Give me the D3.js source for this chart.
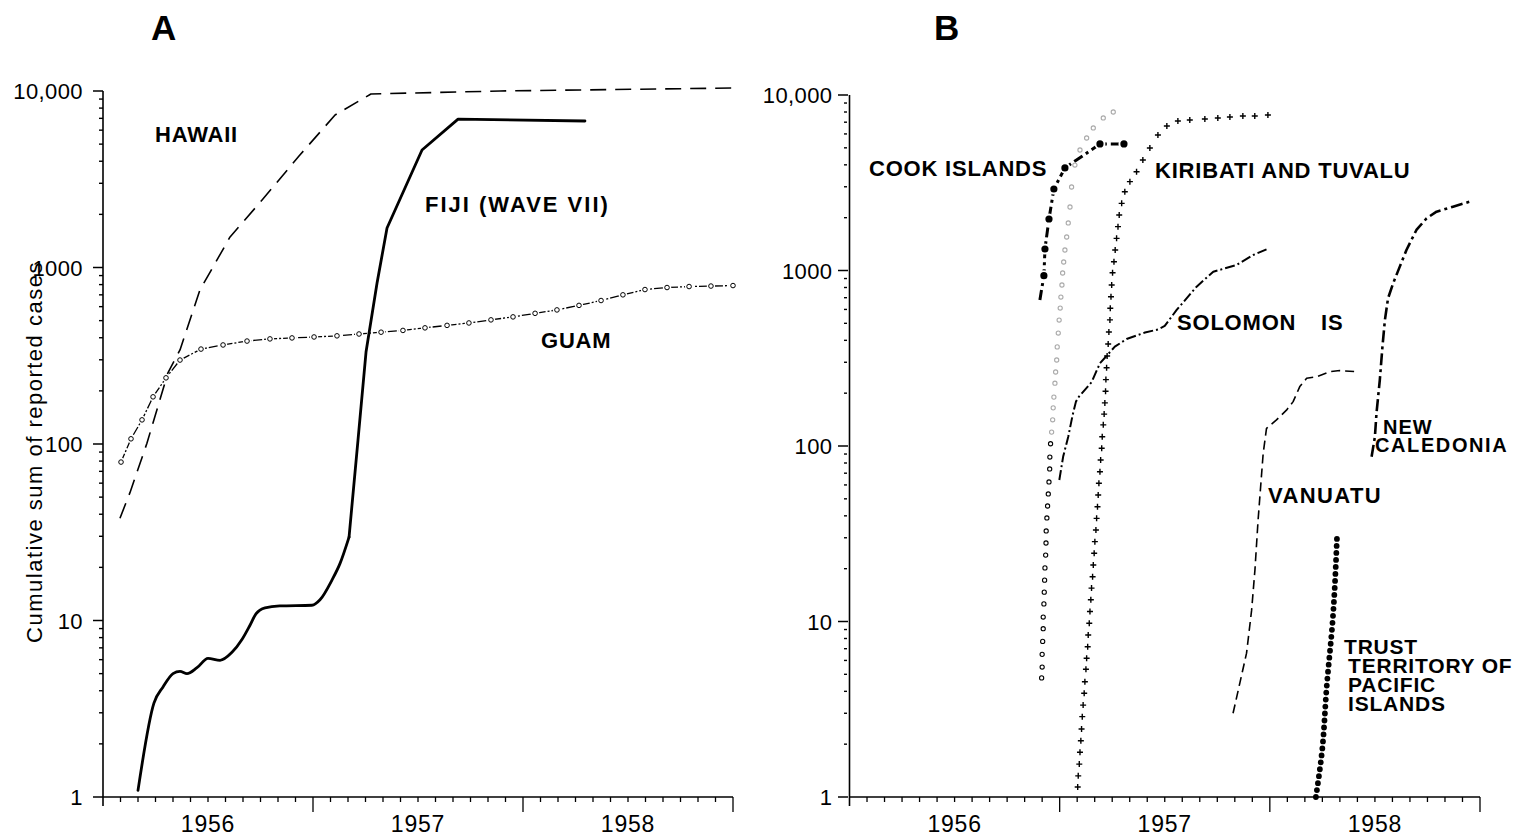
<!DOCTYPE html>
<html><head><meta charset="utf-8">
<script src="https://cdn.jsdelivr.net/npm/d3@7"></script>
<style>
body{margin:0;background:#fff;}
svg{display:block;}
text{font-family:"Liberation Sans",Arial,sans-serif;fill:#000;}
</style></head>
<body>
<svg id="chart" width="1516" height="838"></svg>
<script>
// ---- data: x = months since 1 Jan 1956, y = cumulative reported cases ----
const yearLabels = ["1956","1957","1958"];
const yTickValues = [1,10,100,1000,10000];
const yTickLabels = ["1","10","100","1000","10,000"];

// Panel A
const hawaii = [[0.97,38],[1.54,53],[2.51,101],[3.71,253],[4.4,341],[5.54,746],[7.26,1490],[9.09,2410],[11.2,4280],[13.26,7310],[15.31,9620],[22.7,10000],[36.1,10400]];
const fiji = [[2.0,1.09],[2.91,3.4],[3.43,4.2],[4.0,5.0],[4.4,5.15],[4.8,5.0],[5.37,5.4],[6.0,6.1],[6.69,5.95],[7.37,6.6],[7.94,7.8],[8.4,9.4],[8.74,10.9],[9.26,11.8],[10.1,12.1],[11.94,12.2],[12.4,13.1],[13.09,17],[13.54,21],[14.06,29.7],[14.57,105],[15.03,332],[15.66,817],[16.23,1675],[18.23,4630],[20.29,6930],[27.54,6760]];
const guam = [[1.03,79],[1.6,107],[2.23,137],[2.86,185],[3.6,237],[4.4,299],[5.6,345],[6.86,364],[8.23,383],[9.54,394],[10.8,399],[12.06,404],[13.37,410],[14.63,420],[15.89,430],[17.14,440],[18.4,455],[19.66,470],[20.91,485],[22.17,505],[23.43,525],[24.69,550],[25.94,575],[27.2,610],[28.46,650],[29.71,700],[30.97,750],[32.23,770],[33.49,780],[34.74,785],[36.0,790]];

// Panel B
const cookIslands = [[10.87,680],[11.1,934],[11.16,1326],[11.39,1965],[11.67,2913],[12.3,3840],[14.3,5260],[15.67,5260]];
const unlabeledCircles = [[10.97,4.77],[11.0,5.5],[11.0,6.5],[11.03,7.7],[11.06,9.1],[11.06,10.6],[11.1,12.6],[11.12,14.7],[11.14,17.2],[11.16,20.2],[11.2,23.9],[11.22,28],[11.23,32.8],[11.27,38.9],[11.31,45.5],[11.35,53.3],[11.39,62.4],[11.43,74],[11.44,86.5],[11.48,103],[11.54,120],[11.6,141],[11.63,165],[11.67,190],[11.73,228],[11.77,264],[11.83,309],[11.86,367],[11.92,440],[11.97,522],[12.03,611],[12.07,706],[12.13,827],[12.17,968],[12.23,1118],[12.3,1309],[12.4,1552],[12.49,1866],[12.59,2300],[12.68,2990],[12.87,3990],[13.16,4860],[13.54,5690],[13.92,6490],[14.49,7400],[15.06,8000]];
const kiribatiTuvalu = [[13.03,1.14],[13.06,1.32],[13.12,1.54],[13.16,1.80],[13.21,2.09],[13.25,2.44],[13.29,2.87],[13.34,3.34],[13.40,3.90],[13.44,4.54],[13.50,5.34],[13.54,6.17],[13.60,7.18],[13.63,8.38],[13.69,9.77],[13.73,11.4],[13.78,13.3],[13.82,15.5],[13.88,18.0],[13.92,21.0],[13.97,24.5],[14.01,28.5],[14.07,33.2],[14.11,38.7],[14.16,45.1],[14.20,52.6],[14.24,61.3],[14.30,71.4],[14.34,83.2],[14.40,97.0],[14.43,113],[14.49,132],[14.54,152],[14.58,176],[14.62,205],[14.64,239],[14.68,279],[14.71,326],[14.77,381],[14.81,446],[14.87,523],[14.89,609],[14.93,709],[14.97,827],[15.02,971],[15.10,1122],[15.17,1309],[15.25,1525],[15.33,1778],[15.40,2070],[15.54,2414],[15.72,2812],[16.01,3209],[16.39,3656],[16.75,4262],[17.15,4990],[17.61,5915],[18.12,6656],[18.75,7110],[19.43,7210],[20.29,7300],[21.03,7400],[21.72,7500],[22.46,7590],[23.14,7590],[23.89,7690]];
const solomonIs = [[11.98,64],[12.2,87],[12.49,113],[12.74,150],[12.93,179],[13.1,191],[13.82,231],[14.3,296],[15.15,368],[15.82,407],[16.87,443],[17.63,462],[18.0,483],[18.68,596],[19.82,809],[20.77,984],[22.1,1075],[23.05,1225],[23.81,1320]];
const vanuatu = [[21.9,3.0],[22.29,4.47],[22.67,6.6],[22.96,11.6],[23.15,19.7],[23.33,37.9],[23.62,90.8],[23.81,126],[24.38,141],[24.95,160],[25.33,179],[25.71,218],[26.1,243],[26.67,248],[27.43,265],[28.0,269],[28.95,265]];
const newCaledonia = [[29.81,86.9],[30.0,113],[30.09,154],[30.28,238],[30.43,368],[30.57,522],[30.75,695],[31.04,845],[31.42,1052],[31.8,1309],[32.37,1702],[32.95,1983],[33.52,2163],[34.46,2311],[35.6,2500]];
const trustTerritory = [[26.63,1],[26.97,1.78],[27.25,4.29],[27.59,10.2],[27.84,31.1]];

// ---- drawing ----
const svg = d3.select("#chart");

function makePanel(cfg){
  const x = d3.scaleLinear().domain([0,36]).range([cfg.x0, cfg.x1]);
  const y = d3.scaleLog().domain([1,10000]).range([cfg.y0, cfg.y1]);
  const g = svg.append("g");
  g.append("line").attr("x1",x(0)).attr("x2",x(0)).attr("y1",y(10000)).attr("y2",y(1)+9)
    .attr("stroke","#000").attr("stroke-width",1.6);
  g.append("line").attr("x1",x(0)).attr("x2",x(36)).attr("y1",y(1)).attr("y2",y(1))
    .attr("stroke","#000").attr("stroke-width",1.4);
  const months = d3.range(1,37);
  g.selectAll(".xt").data(months).enter().append("line")
    .attr("x1",d=>x(d)).attr("x2",d=>x(d))
    .attr("y1",y(1)).attr("y2",d=> d%12===0 ? y(1)+15 : y(1)+5)
    .attr("stroke","#000").attr("stroke-width",1.3);
  g.selectAll(".yl").data(yearLabels).enter().append("text")
    .attr("x",(d,i)=>x(6+12*i)).attr("y",832)
    .attr("text-anchor","middle").attr("font-size",23).attr("letter-spacing",0.8).text(d=>d);
  const minor = [];
  for (let p=0;p<4;p++) for (let k=2;k<=9;k++) minor.push(k*Math.pow(10,p));
  g.selectAll(".ym").data(minor).enter().append("line")
    .attr("x1",x(0)+cfg.minorA).attr("x2",x(0)+cfg.minorB)
    .attr("y1",d=>y(d)).attr("y2",d=>y(d))
    .attr("stroke","#000").attr("stroke-width",1.4);
  g.selectAll(".yM").data(yTickValues).enter().append("line")
    .attr("x1",x(0)+cfg.majorA).attr("x2",x(0)+cfg.majorB)
    .attr("y1",d=>y(d)).attr("y2",d=>y(d))
    .attr("stroke","#000").attr("stroke-width",1.5);
  g.selectAll(".ytl").data(yTickValues).enter().append("text")
    .attr("x",x(0)+cfg.labelDx).attr("y",d=>y(d)+8)
    .attr("text-anchor","end").attr("font-size",22).attr("letter-spacing",0.4)
    .text((d,i)=>yTickLabels[i]);
  return {x,y,g};
}

const A = makePanel({x0:103,x1:733,y0:797,y1:91,minorA:-4,minorB:0,majorA:-10,majorB:0,labelDx:-20});
const B = makePanel({x0:849.5,x1:1480,y0:797,y1:95,minorA:-5.5,minorB:-2.5,majorA:-11.5,majorB:-1.5,labelDx:-17});

function drawLine(P, data, w, dash, curve, cap){
  const line = d3.line().x(d=>P.x(d[0])).y(d=>P.y(d[1])).curve(curve||d3.curveLinear);
  P.g.append("path").datum(data).attr("d",line).attr("fill","none")
    .attr("stroke","#000").attr("stroke-width",w)
    .attr("stroke-dasharray",dash||null).attr("stroke-linecap",cap||"butt")
    .attr("stroke-linejoin","round");
}

// Panel A series
drawLine(A, hawaii, 1.6, "16,9");
drawLine(A, fiji.slice(0,20), 2.8, null, d3.curveMonotoneX, "round");
drawLine(A, fiji.slice(19), 2.8, null, d3.curveLinear, "round");
drawLine(A, guam, 1.3, "9,2,2,2");
A.g.selectAll(".gh").data(guam).enter().append("circle")
  .attr("cx",d=>A.x(d[0])).attr("cy",d=>A.y(d[1])).attr("r",4.2).attr("fill","#fff");
A.g.selectAll(".gc").data(guam).enter().append("circle")
  .attr("cx",d=>A.x(d[0])).attr("cy",d=>A.y(d[1])).attr("r",2.3)
  .attr("fill","#fff").attr("stroke","#000").attr("stroke-width",1);

// Panel B series
drawLine(B, cookIslands, 3, "10,4,3,4");
B.g.selectAll(".ch").data(cookIslands.slice(1)).enter().append("circle")
  .attr("cx",d=>B.x(d[0])).attr("cy",d=>B.y(d[1])).attr("r",5.5).attr("fill","#fff");
B.g.selectAll(".cd").data(cookIslands.slice(1)).enter().append("circle")
  .attr("cx",d=>B.x(d[0])).attr("cy",d=>B.y(d[1])).attr("r",3.6).attr("fill","#000");

B.g.selectAll(".oc").data(unlabeledCircles).enter().append("circle")
  .attr("cx",d=>B.x(d[0])).attr("cy",d=>B.y(d[1])).attr("r",2.1)
  .attr("fill","none").attr("stroke",d=>d[1]<=105 ? "#000" : "#aaa").attr("stroke-width",1.1);

B.g.selectAll(".kt").data(kiribatiTuvalu).enter().append("path")
  .attr("transform",d=>`translate(${B.x(d[0])},${B.y(d[1])})`)
  .attr("d","M-3,0H3M0,-3V3").attr("stroke","#000").attr("stroke-width",1.4);

drawLine(B, solomonIs, 2, "10,3,2,3");
drawLine(B, vanuatu, 1.6, "9,5");
drawLine(B, newCaledonia, 2.6, "12,4,3,4");
drawLine(B, trustTerritory, 5.8, "0,7", d3.curveMonotoneY, "round");

// ---- text ----
function label(txt, x, y, size, ls){
  svg.append("text").attr("x",x).attr("y",y).attr("font-size",size||22)
    .attr("font-weight","bold").attr("letter-spacing",ls===undefined?0.8:ls).text(txt);
}
label("A",151,40,35,0);
label("B",934,40,35,0);
svg.append("text").attr("transform","translate(42,452) rotate(-90)")
  .attr("text-anchor","middle").attr("font-size",22).attr("letter-spacing",1.5)
  .text("Cumulative sum of reported cases");

label("HAWAII",155,142);
label("FIJI (WAVE VII)",425,212,22,2.0);
label("GUAM",541,348);
label("COOK ISLANDS",869,176);
label("KIRIBATI AND TUVALU",1155,178);
label("SOLOMON",1177,330);
label("IS",1321,330);
label("VANUATU",1268,503,22,1.4);
label("NEW",1383,434,20,1.0);
label("CALEDONIA",1375,452,20,1.6);
label("TRUST",1344,654,21,0.8);
label("TERRITORY OF",1348,673,21,0.8);
label("PACIFIC",1348,692,21,0.8);
label("ISLANDS",1348,711,21,0.8);
</script>
</body></html>
